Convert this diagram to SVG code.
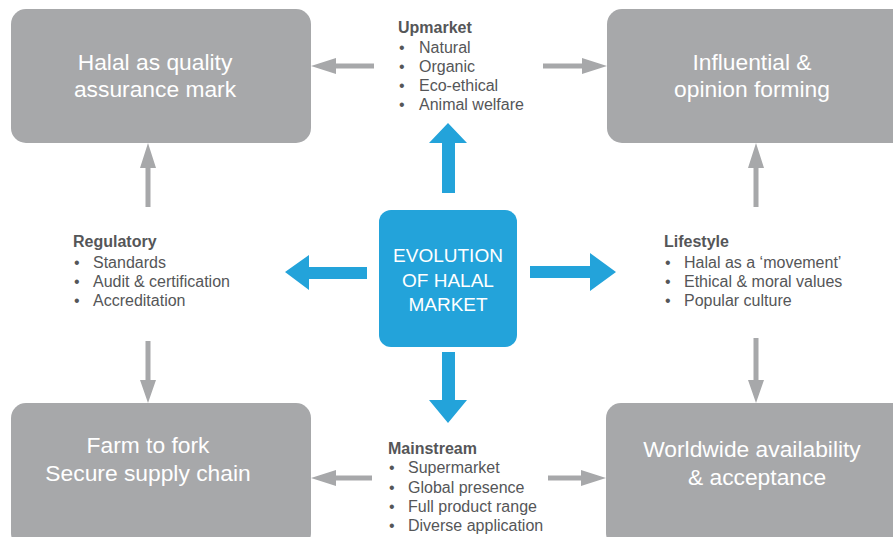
<svg xmlns="http://www.w3.org/2000/svg" width="893" height="537" viewBox="0 0 893 537">
<style>
.box{fill:#a7a8aa}
.bt{font-family:"Liberation Sans",Arial,sans-serif;font-size:22.8px;fill:#ffffff;text-anchor:middle}
.ct{font-family:"Liberation Sans",Arial,sans-serif;font-size:19px;fill:#ffffff;text-anchor:middle}
.h{font-family:"Liberation Sans",Arial,sans-serif;font-size:16px;font-weight:bold;fill:#555658}
.l{font-family:"Liberation Sans",Arial,sans-serif;font-size:16px;fill:#555658}
.ga{fill:#a7a8aa}
.ba{fill:#23a3da}
</style>
<rect width="893" height="537" fill="#ffffff"/>
<g id="node-quality">
<rect class="box" x="11" y="9" width="300" height="134" rx="15"/>
<text class="bt" x="155" y="70">Halal as quality</text>
<text class="bt" x="155" y="97">assurance mark</text>
</g>
<g id="node-influential">
<rect class="box" x="607" y="9" width="300" height="134" rx="15"/>
<text class="bt" x="752" y="70">Influential &amp;</text>
<text class="bt" x="752" y="97">opinion forming</text>
</g>
<g id="node-farm">
<rect class="box" x="11" y="403" width="300" height="145" rx="15"/>
<text class="bt" x="148" y="453">Farm to fork</text>
<text class="bt" x="148" y="481">Secure supply chain</text>
</g>
<g id="node-worldwide">
<rect class="box" x="606" y="403" width="300" height="145" rx="15"/>
<text class="bt" x="752" y="457">Worldwide availability</text>
<text class="bt" x="757" y="485">&amp; acceptance</text>
</g>
<g id="node-center">
<rect x="379" y="210" width="138" height="137" rx="12" fill="#23a3da"/>
<text class="ct" x="448" y="262">EVOLUTION</text>
<text class="ct" x="448" y="287">OF HALAL</text>
<text class="ct" x="448" y="311">MARKET</text>
</g>
<g id="label-upmarket">
<text class="h" x="398" y="33">Upmarket</text>
<text class="l" x="399" y="53">•</text><text class="l" x="419" y="53">Natural</text>
<text class="l" x="399" y="72">•</text><text class="l" x="419" y="72">Organic</text>
<text class="l" x="399" y="91">•</text><text class="l" x="419" y="91">Eco-ethical</text>
<text class="l" x="399" y="110">•</text><text class="l" x="419" y="110">Animal welfare</text>
</g>
<g id="label-regulatory">
<text class="h" x="73" y="247">Regulatory</text>
<text class="l" x="74" y="268">•</text><text class="l" x="93" y="268">Standards</text>
<text class="l" x="74" y="287">•</text><text class="l" x="93" y="287">Audit &amp; certification</text>
<text class="l" x="74" y="306">•</text><text class="l" x="93" y="306">Accreditation</text>
</g>
<g id="label-lifestyle">
<text class="h" x="664" y="247">Lifestyle</text>
<text class="l" x="665" y="268">•</text><text class="l" x="684" y="268">Halal as a ‘movement’</text>
<text class="l" x="665" y="287">•</text><text class="l" x="684" y="287">Ethical &amp; moral values</text>
<text class="l" x="665" y="306">•</text><text class="l" x="684" y="306">Popular culture</text>
</g>
<g id="label-mainstream">
<text class="h" x="388" y="454">Mainstream</text>
<text class="l" x="389" y="473">•</text><text class="l" x="408" y="473">Supermarket</text>
<text class="l" x="389" y="493">•</text><text class="l" x="408" y="493">Global presence</text>
<text class="l" x="389" y="512">•</text><text class="l" x="408" y="512">Full product range</text>
<text class="l" x="389" y="531">•</text><text class="l" x="408" y="531">Diverse application</text>
</g>
<g id="connectors">
<polygon class="ba" points="442,193 442,143 429,143 448,123 467,143 455,143 455,193"/>
<polygon class="ba" points="442,352 442,400 429,400 448,423 467,400 455,400 455,352"/>
<polygon class="ba" points="367,267 309,267 309,255 285,272 309,290 309,279 367,279"/>
<polygon class="ba" points="530,266 590,266 590,253 616,272 590,291 590,278 530,278"/>
<polygon class="ga" points="374,63.5 336,63.5 336,58 311,66 336,74 336,68.5 374,68.5"/>
<polygon class="ga" points="543,63.5 582,63.5 582,58 607,66 582,74 582,68.5 543,68.5"/>
<polygon class="ga" points="372,475.5 336,475.5 336,470 311,478 336,486 336,480.5 372,480.5"/>
<polygon class="ga" points="548,475.5 581,475.5 581,470 606,478 581,486 581,480.5 548,480.5"/>
<polygon class="ga" points="145.5,207 145.5,168 140,168 148,143 156,168 150.5,168 150.5,207"/>
<polygon class="ga" points="753.5,207 753.5,168 748,168 756,143 764,168 758.5,168 758.5,207"/>
<polygon class="ga" points="145.5,341 145.5,380 140,380 148,403 156,380 150.5,380 150.5,341"/>
<polygon class="ga" points="753.5,338 753.5,380 748,380 756,403 764,380 758.5,380 758.5,338"/>
</g>
</svg>
